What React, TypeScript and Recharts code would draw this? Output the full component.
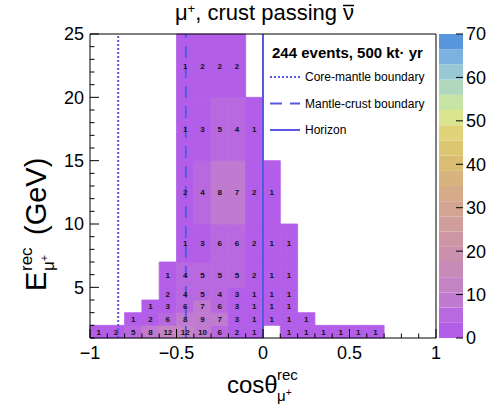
import React from "react";
import { ComposedChart, BarChart, Bar, XAxis, YAxis, ReferenceArea, ReferenceLine, Scatter } from "recharts";

const FONT = '"Liberation Sans", Arial, Helvetica, sans-serif';

// histogram binning
const cosEdges = [-1, -0.9, -0.8, -0.7, -0.6, -0.5, -0.4, -0.3, -0.2, -0.1, 0, 0.1, 0.2, 0.3, 0.4, 0.5, 0.6, 0.7, 0.8, 0.9, 1];
const energyEdges = [1, 2, 3, 4, 5, 7, 10, 15, 20, 25];

// events per energy row, first entry sits in cos bin rowStart[i]
const rowStart = [0, 2, 3, 4, 4, 5, 5, 5, 5];
const row1to2 = [1, 2, 5, 8, 12, 12, 10, 6, 2, 1, 0, 1, 1, 1, 1, 1, 1];
const row2to3 = [1, 2, 6, 8, 9, 7, 3, 1, 1, 1, 1];
const row3to4 = [1, 3, 6, 7, 6, 3, 1, 1, 1];
const row4to5 = [2, 4, 5, 4, 3, 1, 1, 1];
const row5to7 = [1, 4, 5, 5, 5, 2, 1, 1];
const row7to10 = [1, 3, 6, 6, 2, 1, 1];
const row10to15 = [2, 4, 8, 7, 2, 1];
const row15to20 = [1, 3, 5, 4, 1];
const row20to25 = [1, 2, 2, 2];
const rows = [row1to2, row2to3, row3to4, row4to5, row5to7, row7to10, row10to15, row15to20, row20to25];

// boundaries (cos of zenith)
const coreMantle = -0.837;
const mantleCrust = -0.446;
const horizon = 0;

const xTicks = cosEdges;
const yTicks = [1, 2, 3, 4, 5, 6, 7, 8, 9, 10, 11, 12, 13, 14, 15, 16, 17, 18, 19, 20, 21, 22, 23, 24, 25];
const zTicks = [0, 10, 20, 30, 40, 50, 60, 70];
const zEdges = [0, 3.5, 7, 10.5, 14, 17.5, 21, 24.5, 28, 31.5, 35, 38.5, 42, 45.5, 49, 52.5, 56, 59.5, 63, 66.5, 70];
const palette = [
  "#b35ee8", "#b969df", "#c07bd0", "#c584c3", "#c88ab8", "#cb90ae", "#ce96a5", "#d19d9b",
  "#d4a492", "#d6ab88", "#d7b47d", "#d8bd73", "#dcc66f", "#e1d378", "#dbe58d", "#c8e4a4",
  "#b0d8bd", "#97c8d3", "#7bb2df", "#5a96dc",
];

const LINE = "#5858e4";

const colorFor = (n: number) => {
  for (let i = zEdges.length - 2; i >= 0; i--) if (n >= zEdges[i]) return palette[i];
  return palette[0];
};

const cells = rows.flatMap((row, r) =>
  row
    .map((n, k) => {
      const b = rowStart[r] + k;
      return {
        x1: cosEdges[b],
        x2: cosEdges[b + 1],
        y1: energyEdges[r],
        y2: energyEdges[r + 1],
        x: (cosEdges[b] + cosEdges[b + 1]) / 2,
        y: (energyEdges[r] + energyEdges[r + 1]) / 2,
        n,
      };
    })
    .filter((c) => c.n > 0)
);

const bandRow: Record<string, any> = { name: "z" };
palette.forEach((_, i) => (bandRow["b" + i] = zEdges[i + 1] - zEdges[i]));
const bandData = [bandRow];

const isMajorX = (v: number) => Math.abs(v * 2 - Math.round(v * 2)) < 1e-6;
const fmt = (v: number) => (Math.abs(v) < 1e-9 ? "0" : String(v).replace("-", "\u2212"));

const BottomTick = (p: any) => {
  const v = p.payload.value;
  const major = isMajorX(v);
  return (
    <g>
      <line x1={p.x} x2={p.x} y1={p.y} y2={p.y - (major ? 9 : 4.5)} stroke="#000" />
      {major && (
        <text x={p.x} y={p.y + 21} textAnchor="middle" fontSize={18} fontFamily={FONT} fill="#000">
          {fmt(v)}
        </text>
      )}
    </g>
  );
};

const TopTick = (p: any) => {
  const major = isMajorX(p.payload.value);
  return <line x1={p.x} x2={p.x} y1={p.y} y2={p.y + (major ? 9 : 4.5)} stroke="#000" />;
};

const LeftTick = (p: any) => {
  const v = p.payload.value;
  const major = v % 5 === 0;
  return (
    <g>
      <line x1={p.x} x2={p.x + (major ? 9 : 4.5)} y1={p.y} y2={p.y} stroke="#000" />
      {major && (
        <text x={p.x - 6} y={p.y} dy="0.36em" textAnchor="end" fontSize={18} fontFamily={FONT} fill="#000">
          {v}
        </text>
      )}
    </g>
  );
};

const RightTick = (p: any) => {
  const major = p.payload.value % 5 === 0;
  return <line x1={p.x} x2={p.x - (major ? 9 : 4.5)} y1={p.y} y2={p.y} stroke="#000" />;
};

const ZTick = (p: any) => (
  <g>
    <line x1={p.x} x2={p.x - 7} y1={p.y} y2={p.y} stroke="#000" />
    <text x={p.x + 3} y={p.y} dy="0.36em" fontSize={18} fontFamily={FONT} fill="#000">
      {p.payload.value}
    </text>
  </g>
);

const CountLabel = (p: any) => (
  <text x={p.cx} y={p.cy} dy="0.36em" textAnchor="middle" fontSize={8} fontWeight="bold" fontFamily={FONT} fill="#111">
    {p.payload.n}
  </text>
);

export default function App() {
  return (
    <div style={{ position: "absolute", left: 0, top: 0, width: 486, height: 408, background: "#fff", fontFamily: FONT }}>
      <div style={{ position: "absolute", left: 0, top: 0 }}>
        <ComposedChart width={486} height={408} margin={{ top: 0, right: 0, bottom: 0, left: 0 }}>
          {cells.map((c, i) => (
            <ReferenceArea
              key={i}
              x1={c.x1}
              x2={c.x2}
              y1={c.y1}
              y2={c.y2}
              fill={colorFor(c.n)}
              fillOpacity={1}
              stroke={colorFor(c.n)}
              strokeWidth={0.8}
            />
          ))}
          <ReferenceLine x={coreMantle} stroke={LINE} strokeWidth={2} strokeDasharray="2 2" />
          <ReferenceLine x={mantleCrust} stroke={LINE} strokeWidth={2} strokeDasharray="12 8" />
          <ReferenceLine x={horizon} stroke={LINE} strokeWidth={2} />
          <XAxis
            type="number"
            dataKey="x"
            domain={[-1, 1]}
            ticks={xTicks}
            interval={0}
            height={70}
            tickSize={0}
            tickMargin={0}
            tickLine={false}
            axisLine={{ stroke: "#000" }}
            tick={BottomTick}
          />
          <XAxis
            xAxisId="t"
            orientation="top"
            type="number"
            domain={[-1, 1]}
            ticks={xTicks}
            interval={0}
            height={34}
            tickSize={0}
            tickMargin={0}
            tickLine={false}
            axisLine={{ stroke: "#000" }}
            tick={TopTick}
          />
          <YAxis
            type="number"
            dataKey="y"
            domain={[1, 25]}
            ticks={yTicks}
            interval={0}
            width={90}
            tickSize={0}
            tickMargin={0}
            tickLine={false}
            axisLine={{ stroke: "#000" }}
            tick={LeftTick}
          />
          <YAxis
            yAxisId="r"
            orientation="right"
            type="number"
            domain={[1, 25]}
            ticks={yTicks}
            interval={0}
            width={50}
            tickSize={0}
            tickMargin={0}
            tickLine={false}
            axisLine={{ stroke: "#000" }}
            tick={RightTick}
          />
          <Scatter data={cells} dataKey="y" shape={CountLabel} isAnimationActive={false} />
        </ComposedChart>
      </div>

      <div style={{ position: "absolute", left: 0, top: 0 }}>
        <BarChart
          width={486}
          height={408}
          data={bandData}
          margin={{ top: 34, right: 0, bottom: 70, left: 439 }}
          barCategoryGap={0}
          barGap={0}
        >
          <XAxis dataKey="name" hide />
          <YAxis
            orientation="right"
            type="number"
            domain={[0, 70]}
            ticks={zTicks}
            interval={0}
            width={23}
            tickSize={0}
            tickMargin={0}
            tickLine={false}
            axisLine={false}
            tick={ZTick}
          />
          {palette.map((col, i) => (
            <Bar key={i} dataKey={"b" + i} stackId="z" fill={col} isAnimationActive={false} />
          ))}
        </BarChart>
      </div>

      <svg width={486} height={408} style={{ position: "absolute", left: 0, top: 0, pointerEvents: "none" }}>
        {/* title */}
        <text x={337} y={20} textAnchor="end" fontSize={22} fontFamily={FONT} fill="#000">
          μ<tspan fontSize={13} dy={-7}>+</tspan>
          <tspan dy={7}>, crust passing</tspan>
        </text>
        <text x={343} y={20} fontSize={22} fontFamily={FONT} fill="#000">ν</text>
        <line x1={343} x2={354} y1={5.5} y2={5.5} stroke="#000" strokeWidth={1.5} />

        {/* legend */}
        <text x={272} y={58} fontSize={15} fontWeight="bold" fontFamily={FONT} fill="#000">
          244 events, 500 kt{"\u00B7"} yr
        </text>
        <line x1={270} x2={300} y1={77} y2={77} stroke={LINE} strokeWidth={2} strokeDasharray="2 2" />
        <text x={305} y={77} dy="0.36em" fontSize={12} fontFamily={FONT} fill="#000">
          Core-mantle boundary
        </text>
        <line x1={270} x2={300} y1={103.5} y2={103.5} stroke={LINE} strokeWidth={2} strokeDasharray="12 8" />
        <text x={305} y={103.5} dy="0.36em" fontSize={12} fontFamily={FONT} fill="#000">
          Mantle-crust boundary
        </text>
        <line x1={270} x2={300} y1={130} y2={130} stroke={LINE} strokeWidth={2} />
        <text x={305} y={130} dy="0.36em" fontSize={12} fontFamily={FONT} fill="#000">
          Horizon
        </text>

        {/* x title */}
        <g fontFamily={FONT} fill="#000">
          <text x={227} y={393} fontSize={24}>cosθ</text>
          <text x={277} y={380} fontSize={15}>rec</text>
          <text x={277} y={401} fontSize={15}>
            μ<tspan fontSize={10} dy={-5}>+</tspan>
          </text>
        </g>

        {/* y title */}
        <g transform="translate(46, 291) rotate(-90)" fontFamily={FONT} fill="#000">
          <text x={0} y={0} fontSize={29}>E</text>
          <text x={20} y={-14} fontSize={17}>rec</text>
          <text x={20} y={8} fontSize={17}>
            μ<tspan fontSize={11} dy={-6}>+</tspan>
          </text>
          <text x={56} y={0} fontSize={29}>(GeV)</text>
        </g>
      </svg>
    </div>
  );
}
